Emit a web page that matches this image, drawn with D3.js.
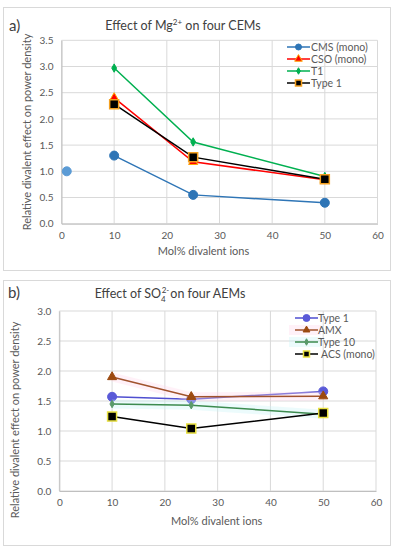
<!DOCTYPE html>
<html><head><meta charset="utf-8">
<script src="https://cdn.jsdelivr.net/npm/d3@7"></script>
<style>body{margin:0;background:#fff;font-family:Lato,"Open Sans",sans-serif;}</style>
</head><body>
<svg id="c" width="399" height="550"></svg>
<script>
const xTicks = [0,10,20,30,40,50,60];
const yTicksA = [0,0.5,1.0,1.5,2.0,2.5,3.0,3.5];
const yTicksB = [0,0.5,1.0,1.5,2.0,2.5,3.0];
const xsA = [10,25,50];
const cmsMono = [1.30,0.55,0.40];
const csoMono = [2.40,1.18,0.84];
const t1 = [2.97,1.56,0.90];
const type1A = [2.28,1.27,0.85];
const refPointX = [1];
const refPointY = [1.0];
const xsB = [10,25,50];
const type1B = [1.57,1.53,1.66];
const amx = [1.90,1.57,1.58];
const type10 = [1.45,1.43,1.28];
const acsMono = [1.24,1.04,1.30];

const svg = d3.select("#c");

function panel(cfg){
  const g = svg.append("g");
  g.append("rect").attr("x",cfg.box[0]).attr("y",cfg.box[1]).attr("width",cfg.box[2]).attr("height",cfg.box[3])
    .attr("fill","#fff").attr("stroke","#d9d9d9").attr("stroke-width",1);
  const x = d3.scaleLinear().domain([0,60]).range(cfg.xr);
  const y = d3.scaleLinear().domain([0,cfg.ymax]).range(cfg.yr);
  g.selectAll(".gx").data(xTicks).enter().append("line")
    .attr("x1",d=>x(d)).attr("x2",d=>x(d)).attr("y1",y(0)).attr("y2",y(cfg.ymax))
    .attr("stroke","#d9d9d9").attr("stroke-width",1);
  g.selectAll(".gy").data(cfg.yTicks).enter().append("line")
    .attr("x1",x(0)).attr("x2",x(60)).attr("y1",d=>y(d)).attr("y2",d=>y(d))
    .attr("stroke","#d9d9d9").attr("stroke-width",1);
  const ax = g.append("g").attr("transform",`translate(0,${y(0)})`)
    .call(d3.axisBottom(x).tickValues(xTicks).tickSize(0).tickPadding(8));
  const ay = g.append("g").attr("transform",`translate(${x(0)},0)`)
    .call(d3.axisLeft(y).tickValues(cfg.yTicks).tickFormat(d3.format(".1f")).tickSize(0).tickPadding(8));
  [ax,ay].forEach(a=>{a.select(".domain").attr("stroke","#bfbfbf");
    a.selectAll("text").attr("fill","#595959").style("font-size","10px").style("font-family","Lato,'Open Sans',sans-serif");});
  g.append("text").attr("x",cfg.panelLabel[1]).attr("y",cfg.panelLabel[2]).text(cfg.panelLabel[0])
    .attr("fill","#404040").style("font-size","15px");
  const t = g.append("text").attr("x",cfg.title[1]).attr("y",cfg.title[2]).attr("text-anchor","middle")
    .attr("fill","#404040").style("font-size","12.5px");
  cfg.title[0](t);
  g.append("text").attr("x",(x(0)+x(60))/2+cfg.xtOff).attr("y",cfg.xtY).attr("text-anchor","middle")
    .attr("fill","#595959").style("font-size","11px").text("Mol% divalent ions");
  g.append("text").attr("transform",`translate(${cfg.ytX},${cfg.ytY}) rotate(-90)`).attr("text-anchor","middle")
    .attr("fill","#595959").style("font-size","11px").text("Relative divalent effect on power density");
  return {g,x,y};
}

function marker(g, type, cx, cy, fill, stroke, size){
  if(type==="circle"){
    g.append("circle").attr("cx",cx).attr("cy",cy).attr("r",size).attr("fill",fill).attr("stroke",stroke).attr("stroke-width",1);
  } else {
    const sym = {square:d3.symbolSquare, triangle:d3.symbolTriangle, diamond:d3.symbolDiamond}[type];
    g.append("path").attr("d",d3.symbol().type(sym).size(size*size)).attr("transform",`translate(${cx},${cy})`)
      .attr("fill",fill).attr("stroke",stroke).attr("stroke-width",type==="square"?1.5:1);
  }
}

function series(p, xs, ys, s){
  const pts = xs.map((d,i)=>[p.x(d),p.y(ys[i])]);
  if(s.glow){
    p.g.append("path").attr("d",d3.line()(pts)).attr("fill","none").attr("stroke",s.glow).attr("stroke-width",9).attr("opacity",0.35);
  }
  p.g.append("path").attr("d",d3.line()(pts)).attr("fill","none").attr("stroke",s.color).attr("stroke-width",1.5);
  pts.forEach(q=>marker(p.g,s.marker,q[0],q[1],s.mfill,s.mstroke,s.msize));
}

function legend(p, items, lx, ly, tx){
  items.forEach((s,i)=>{
    const yy = ly + i*12;
    if(s.glow){ p.g.append("rect").attr("x",lx-6).attr("y",yy-5).attr("width",32).attr("height",10).attr("fill",s.glow).attr("opacity",0.35); }
    p.g.append("line").attr("x1",lx).attr("x2",lx+23).attr("y1",yy).attr("y2",yy).attr("stroke",s.color).attr("stroke-width",1.5);
    marker(p.g,s.marker,lx+11.5,yy,s.mfill,s.mstroke,s.lsize);
    p.g.append("text").attr("x",tx[i]).attr("y",yy+3.5).text(s.name).attr("fill","#595959").style("font-size","10.5px");
  });
}

// Panel a
const pa = panel({box:[3.5,7.5,387,263], xr:[61.5,377.5], yr:[223.7,40.3], ymax:3.5, yTicks:yTicksA,
  panelLabel:["a)",9,31], title:[t=>{t.append("tspan").text("Effect of Mg");t.append("tspan").text("2+").attr("dy",-5).style("font-size","8px");t.append("tspan").text(" on four CEMs").attr("dy",5);},183,30],
  xtOff:-16, xtY:255, ytX:31, ytY:132});
const sa = [
  {name:"CMS (mono)", ys:cmsMono, color:"#2e75b6", marker:"circle", mfill:"#2e75b6", mstroke:"#2e75b6", msize:4.5, lsize:3},
  {name:"CSO (mono)", ys:csoMono, color:"#ff0000", marker:"triangle", mfill:"#ff0000", mstroke:"#ffa500", msize:6, lsize:5},
  {name:"T1", ys:t1, color:"#00b050", marker:"diamond", mfill:"#00b050", mstroke:"#00b050", msize:4.5, lsize:3.5},
  {name:"Type 1", ys:type1A, color:"#000000", marker:"square", mfill:"#000000", mstroke:"#f4a020", msize:9, lsize:6}
];
sa.forEach(s=>series(pa,xsA,s.ys,s));
refPointX.forEach((d,i)=>marker(pa.g,"circle",pa.x(d),pa.y(refPointY[i]),"#5b9bd5","#5b9bd5",4.5));
legend(pa, sa, 287, 47, [311,311,311,311]);

// Panel b
const pb = panel({box:[3.5,280.5,387,265], xr:[59.3,376], yr:[491,311], ymax:3.0, yTicks:yTicksB,
  panelLabel:["b)",8,298], title:[t=>{t.append("tspan").text("Effect of SO");t.append("tspan").text("4").attr("dy",4).style("font-size","8px");t.append("tspan").text("2-").attr("dy",-9).attr("dx",-4).style("font-size","8px");t.append("tspan").text("on four AEMs").attr("dy",5).attr("dx",1);},170,298],
  xtOff:-1, xtY:525, ytX:19, ytY:420});
const sb = [
  {name:"Type 1", ys:type1B, color:"#4f4fd0", marker:"circle", mfill:"#5a5ad8", mstroke:"#5a5ad8", msize:4.5, lsize:3.5},
  {name:"AMX", ys:amx, color:"#a0522d", marker:"triangle", mfill:"#9c4a10", mstroke:"#9c4a10", msize:6, lsize:4.5, glow:"#ffd6ea"},
  {name:"Type 10", ys:type10, color:"#3d8b4f", marker:"diamond", mfill:"#5a9a6a", mstroke:"#5a9a6a", msize:4, lsize:3.5, glow:"#c9f4f7"},
  {name:"ACS (mono)", ys:acsMono, color:"#000000", marker:"square", mfill:"#000000", mstroke:"#e8e040", msize:9, lsize:6}
];
sb.forEach(s=>series(pb,xsB,s.ys,s));
legend(pb, sb, 295, 318, [318,318,318,321]);
</script>
</body></html>
